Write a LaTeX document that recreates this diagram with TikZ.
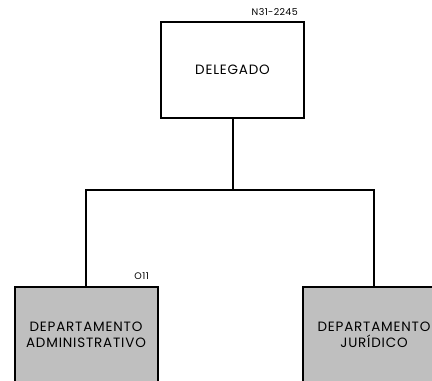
\documentclass[tikz,border=0pt]{standalone}
\usepackage{fontspec}
\setmainfont{Poppins}
\begin{document}
\begin{tikzpicture}[x=1pt,y=-1pt,
  box/.style={draw=black,line width=2pt,minimum width=143pt,minimum height=96pt,inner sep=0pt,align=center,font=\fontsize{13.5}{16}\selectfont\addfontfeatures{LetterSpace=6}},
  dept/.style={box,fill=gray!50!white},
  tag/.style={font=\fontsize{9.5}{10}\selectfont\addfontfeatures{LetterSpace=4},anchor=east,inner sep=0pt},
  link/.style={line width=2pt}]
\useasboundingbox (0,0) rectangle (432,381);
\clip (0,0) rectangle (432,381);
\node[box] (del) at (232.5,70) {DELEGADO};
\node[tag] (delt) at (298,12) {N31-2245};
\node[dept] (adm) at (86,335) {DEPARTAMENTO\\ADMINISTRATIVO};
\node[tag] (admt) at (149,276) {O11};
\node[dept] (jur) at (374,335) {DEPARTAMENTO\\JURÍDICO};
\node[tag] (jurt) at (450,276) {O12};
\coordinate (mid) at (232.5,190);
\draw[link] (del.south) -- (mid);
\draw[link] (adm.north) |- (mid) -| (jur.north);
\end{tikzpicture}
\end{document}
